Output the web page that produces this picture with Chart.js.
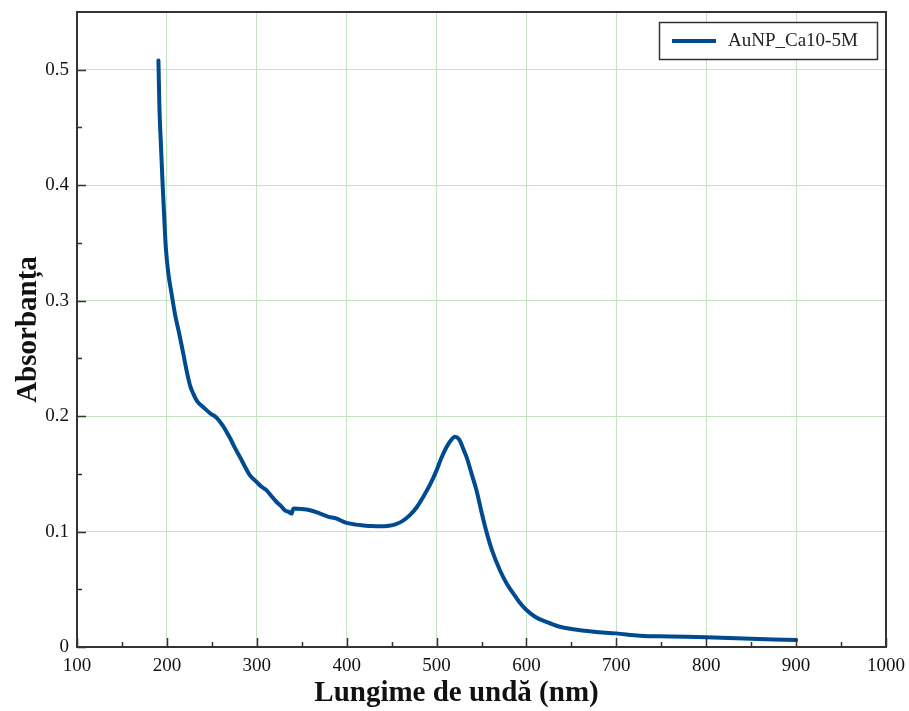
<!DOCTYPE html>
<html>
<head>
<meta charset="utf-8">
<script src="https://cdn.jsdelivr.net/npm/chart.js@4"></script>
<style>
    html, body { margin: 0; padding: 0; background: #fff; }
    #wrap { width: 909px; height: 711px; }
</style>
</head>
<body>
<div id="wrap"><canvas id="uvChart" width="909" height="711"></canvas></div>
<script>
// wavelength (nm) and absorbance
const wavelength = [
    190.6, 191.7, 193.2, 195.3, 196.8, 198.8, 201.7, 205.3, 209, 213.8, 218.3, 222.7, 226, 229.4, 234,
    240.5, 248, 255.4, 262, 270.2, 276, 281.3, 287, 292.4, 299.9, 305, 311, 316, 322,
    327, 331.4, 335.5, 338.8, 340.2, 341.4, 350, 359.2, 370.3, 379, 388.9, 395, 400,
    410, 418.5, 428, 437, 447, 455, 462, 470, 478, 485, 493, 500, 505, 511, 516,
    520.4, 525, 527, 530, 533.5, 539, 544.5, 550, 555.7, 562, 570.5, 578, 585.3,
    592, 600, 610, 622, 635, 652, 675, 700, 726, 760, 800, 850, 900
];
const absorbance = [
    0.508, 0.467, 0.438, 0.40, 0.376, 0.346, 0.323, 0.3057, 0.2884, 0.2711, 0.2538, 0.2366, 0.226, 0.2193, 0.2125,
    0.2077, 0.2025, 0.1985, 0.192, 0.181, 0.172, 0.1645, 0.156, 0.1487, 0.1429, 0.139, 0.1357, 0.131, 0.1256,
    0.122, 0.1184, 0.117, 0.1156, 0.119, 0.1199, 0.1195, 0.1184, 0.1156, 0.113, 0.1112, 0.109, 0.1075,
    0.106, 0.1053, 0.1047, 0.1045, 0.105, 0.1065, 0.109, 0.114, 0.121, 0.1298, 0.141, 0.153, 0.163, 0.173, 0.179,
    0.182, 0.180, 0.177, 0.171, 0.1643, 0.150, 0.1356, 0.117, 0.0993, 0.083, 0.0665, 0.055, 0.0464,
    0.039, 0.032, 0.026, 0.0218, 0.018, 0.0153, 0.0132, 0.0118, 0.0098, 0.0091, 0.0084, 0.0072, 0.006
];
const seriesLabel = 'AuNP_Ca10-5M';
const xTitle = 'Lungime de undă (nm)';
const yTitle = 'Absorbanța';

const xTicks = [100, 200, 300, 400, 500, 600, 700, 800, 900, 1000];
const xMinorTicks = [150, 250, 350, 450, 550, 650, 750, 850, 950];
const yTicks = [0, 0.1, 0.2, 0.3, 0.4, 0.5];
const yMinorTicks = [0.05, 0.15, 0.25, 0.35, 0.45];

const axisColor = '#333333';
const gridColor = '#c4e4c4';
const lineColor = '#004a8f';
const serif = "'Liberation Serif', 'Times New Roman', serif";

// ticks point inwards in the original, so draw them here
const innerTicks = {
    id: 'innerTicks',
    afterDatasetsDraw(chart) {
        const {ctx, chartArea: a, scales: {x, y}} = chart;
        ctx.save();
        ctx.strokeStyle = axisColor;
        ctx.lineWidth = 1.5;
        ctx.beginPath();
        xTicks.forEach(v => {
            const px = Math.round(x.getPixelForValue(v)) + 0.5;
            ctx.moveTo(px, a.bottom);
            ctx.lineTo(px, a.bottom - 9);
        });
        xMinorTicks.forEach(v => {
            const px = Math.round(x.getPixelForValue(v)) + 0.5;
            ctx.moveTo(px, a.bottom);
            ctx.lineTo(px, a.bottom - 5);
        });
        yTicks.forEach(v => {
            const py = Math.round(y.getPixelForValue(v)) + 0.5;
            ctx.moveTo(a.left, py);
            ctx.lineTo(a.left + 9, py);
        });
        yMinorTicks.forEach(v => {
            const py = Math.round(y.getPixelForValue(v)) + 0.5;
            ctx.moveTo(a.left, py);
            ctx.lineTo(a.left + 5, py);
        });
        ctx.stroke();

        // top and right frame
        ctx.lineWidth = 2;
        ctx.beginPath();
        ctx.moveTo(a.left, a.top);
        ctx.lineTo(a.right, a.top);
        ctx.lineTo(a.right, a.bottom);
        ctx.stroke();
        ctx.restore();
    }
};

// boxed legend in the upper right corner, and the x title (sits a bit left of centre)
const boxLegend = {
    id: 'boxLegend',
    afterDraw(chart) {
        const {ctx, chartArea: a} = chart;
        const ds = chart.data.datasets[0];
        const bx = a.right - 227, by = a.top + 10, bw = 218, bh = 37;
        ctx.save();
        ctx.fillStyle = '#fff';
        ctx.fillRect(bx, by, bw, bh);
        ctx.strokeStyle = axisColor;
        ctx.lineWidth = 1.5;
        ctx.strokeRect(bx + 0.5, by + 0.5, bw, bh);
        ctx.strokeStyle = ds.borderColor;
        ctx.lineWidth = 4;
        ctx.beginPath();
        ctx.moveTo(bx + 13, by + 19);
        ctx.lineTo(bx + 57, by + 19);
        ctx.stroke();
        ctx.fillStyle = '#222';
        ctx.font = '19px ' + serif;
        ctx.textBaseline = 'middle';
        ctx.textAlign = 'left';
        ctx.fillText(ds.label, bx + 69, by + 19.5);

        ctx.fillStyle = '#111';
        ctx.font = 'bold 29px ' + serif;
        ctx.textAlign = 'center';
        ctx.fillText(xTitle, (a.left + a.right) / 2 - 25, a.bottom + 47);
        ctx.restore();
    }
};

const points = wavelength.map((w, i) => ({x: w, y: absorbance[i]}));

new Chart(document.getElementById('uvChart').getContext('2d'), {
    type: 'line',
    data: {
        datasets: [{
            label: seriesLabel,
            data: points,
            borderColor: lineColor,
            backgroundColor: lineColor,
            borderWidth: 4,
            pointRadius: 0,
            cubicInterpolationMode: 'monotone',
            borderCapStyle: 'round',
            borderJoinStyle: 'round',
            fill: false
        }]
    },
    options: {
        responsive: false,
        animation: false,
        layout: {
            padding: {top: 12, right: 23, bottom: 0, left: 0}
        },
        scales: {
            x: {
                type: 'linear',
                min: 100,
                max: 1000,
                afterBuildTicks: s => { s.ticks = xTicks.map(v => ({value: v})); },
                afterFit: s => {
                    s.height = 64;
                    s.paddingLeft = 0;
                    s.paddingRight = 0;
                },
                ticks: {
                    color: '#111',
                    padding: 8,
                    maxRotation: 0,
                    font: {family: serif, size: 19},
                    callback: v => String(v)
                },
                grid: {color: gridColor, lineWidth: 1, drawTicks: false},
                border: {color: axisColor, width: 2},
                title: {display: false}
            },
            y: {
                type: 'linear',
                min: 0,
                max: 0.55,
                afterBuildTicks: s => { s.ticks = yTicks.map(v => ({value: v})); },
                afterFit: s => {
                    s.width = 77;
                    s.paddingTop = 0;
                    s.paddingBottom = 0;
                },
                ticks: {
                    color: '#111',
                    padding: 8,
                    font: {family: serif, size: 19},
                    callback: v => (v === 0 ? '0' : v.toFixed(1))
                },
                grid: {color: gridColor, lineWidth: 1, drawTicks: false},
                border: {color: axisColor, width: 2},
                title: {
                    display: true,
                    text: yTitle,
                    color: '#111',
                    padding: {top: 11, bottom: 0},
                    font: {family: serif, size: 29, weight: 'bold'}
                }
            }
        },
        plugins: {
            legend: {display: false},
            title: {display: false},
            tooltip: {enabled: false}
        }
    },
    plugins: [innerTicks, boxLegend]
});
</script>
</body>
</html>
